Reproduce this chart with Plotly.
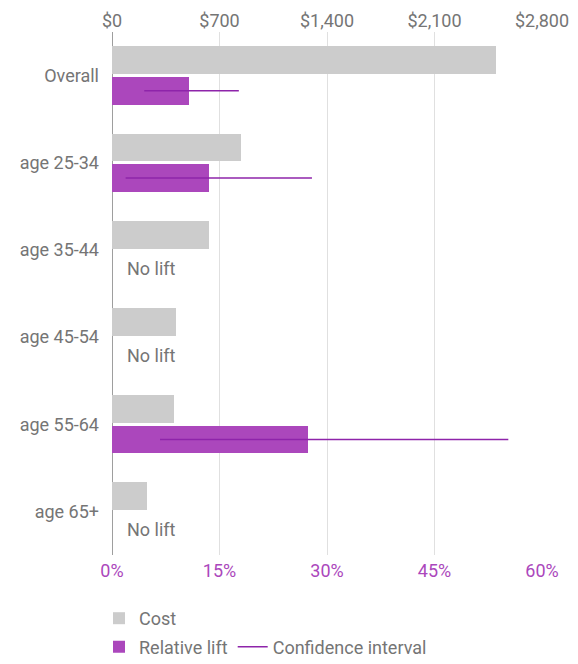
import plotly.graph_objects as go

categories = ["Overall", "age 25-34", "age 35-44", "age 45-54", "age 55-64", "age 65+"]
cost = [2500, 840, 630, 415, 405, 230]
lift = [10.8, 13.5, None, None, 27.3, None]
ci_low = [4.5, 1.9, None, None, 6.7, None]
ci_high = [17.7, 27.9, None, None, 55.3, None]
cost_ticks = [0, 700, 1400, 2100, 2800]
lift_ticks = [0, 15, 30, 45, 60]

GRAY_TXT = "#757575"
PURPLE = "#ab47bc"
FONT = "Roboto"

# page has an 8px body margin; figure is sized to fill the rest of the window
W, H = 570, 656

ypos = list(range(len(categories)))
cost_y = [i - 0.175 for i in ypos]
lift_y = [i + 0.175 for i in ypos]

fig = go.Figure()
fig.add_trace(go.Bar(
    name="Cost", orientation="h", x=cost, y=cost_y, width=0.32,
    marker=dict(color="#cccccc", line=dict(width=0)),
    xaxis="x", yaxis="y", legend="legend", hoverinfo="skip",
))
fig.add_trace(go.Bar(
    name="Relative lift", orientation="h",
    x=[v if v is not None else 0 for v in lift], y=lift_y, width=0.32,
    marker=dict(color=PURPLE, line=dict(width=0)),
    xaxis="x2", yaxis="y", legend="legend2", hoverinfo="skip",
))
ci_x, ci_y = [], []
for lo, hi, yy in zip(ci_low, ci_high, lift_y):
    if lo is None:
        continue
    ci_x += [lo, hi, None]
    ci_y += [yy, yy, None]
fig.add_trace(go.Scatter(
    name="Confidence interval", x=ci_x, y=ci_y, mode="lines",
    line=dict(color="#8e24aa", width=1.5),
    xaxis="x2", yaxis="y", legend="legend2", hoverinfo="skip",
))

for v, yy in zip(lift, lift_y):
    if v is None:
        fig.add_annotation(
            x=0, y=yy, xref="x2", yref="y", text="No lift", showarrow=False,
            xanchor="left", yanchor="middle", xshift=13, yshift=-3,
            font=dict(family=FONT, size=18, color=GRAY_TXT),
        )

fig.update_layout(
    width=W, height=H,
    margin=dict(l=104, r=36, t=24, b=109, autoexpand=False),
    paper_bgcolor="white", plot_bgcolor="white",
    font=dict(family=FONT, size=18, color=GRAY_TXT),
    showlegend=True,
    bargap=0,
    xaxis=dict(
        side="top", range=[0, 2800], tickvals=cost_ticks,
        ticktext=["$" + format(t, ",") for t in cost_ticks],
        showgrid=True, gridcolor="#e0e0e0", gridwidth=1,
        zeroline=True, zerolinecolor="#9e9e9e", zerolinewidth=1,
        showline=False, ticks="", ticklabelstandoff=0, automargin=False,
        tickfont=dict(family=FONT, size=18, color=GRAY_TXT),
        fixedrange=True,
    ),
    xaxis2=dict(
        side="bottom", overlaying="x", range=[0, 60], tickvals=lift_ticks,
        ticktext=[f"{t}%" for t in lift_ticks],
        showgrid=False, zeroline=False, showline=False, ticks="",
        ticklabelstandoff=3, automargin=False,
        tickfont=dict(family=FONT, size=18, color=PURPLE),
        fixedrange=True,
    ),
    yaxis=dict(
        range=[5.5, -0.5], tickvals=ypos, ticktext=categories,
        showgrid=False, zeroline=False, showline=False, ticks="",
        ticklabelstandoff=12, automargin=False,
        tickfont=dict(family=FONT, size=18, color=GRAY_TXT),
        fixedrange=True,
    ),
    legend=dict(
        orientation="h", xref="container", yref="container",
        x=91 / W, y=1 - 610.5 / H, xanchor="left", yanchor="middle",
        font=dict(family=FONT, size=18, color=GRAY_TXT),
        bgcolor="rgba(0,0,0,0)", itemclick=False, itemdoubleclick=False,
    ),
    legend2=dict(
        orientation="h", xref="container", yref="container",
        x=91 / W, y=1 - 639 / H, xanchor="left", yanchor="middle",
        font=dict(family=FONT, size=18, color=GRAY_TXT),
        bgcolor="rgba(0,0,0,0)", itemclick=False, itemdoubleclick=False,
    ),
)

fig.write_html("out.html")
